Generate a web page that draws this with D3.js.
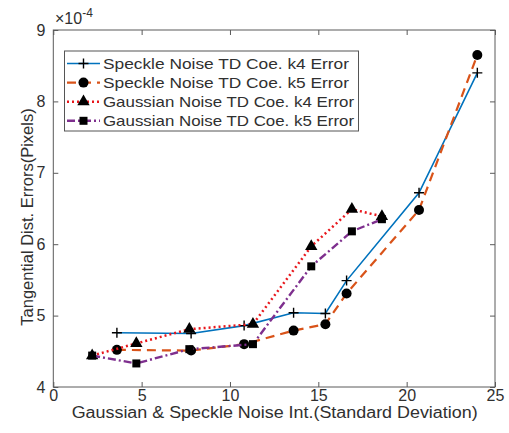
<!DOCTYPE html>
<html><head><meta charset="utf-8">
<script src="https://cdn.jsdelivr.net/npm/d3@7"></script>
<style>body{margin:0;background:#fff;} text{font-family:"Liberation Sans",Arial,sans-serif;fill:#303030;}</style>
</head><body>
<svg id="c" width="509" height="433"></svg>
<script>
// data (y in units of 1e-4)
const speckleX = [3.6, 7.8, 10.8, 13.6, 15.4, 16.6, 20.7, 24.0];
const speckleK4 = [4.76, 4.75, 4.86, 5.04, 5.03, 5.49, 6.72, 8.40];
const speckleK5 = [4.52, 4.51, 4.60, 4.79, 4.88, 5.31, 6.48, 8.65];
const gaussX = [2.2, 4.7, 7.7, 11.3, 14.6, 16.9, 18.6];
const gaussK4 = [4.44, 4.61, 4.81, 4.88, 5.97, 6.49, 6.39];
const gaussK5 = [4.44, 4.33, 4.53, 4.60, 5.69, 6.18, 6.35];
const xTicks = [0, 5, 10, 15, 20, 25];
const yTicks = [4, 5, 6, 7, 8, 9];
const seriesNames = ["Speckle Noise TD Coe. k4 Error","Speckle Noise TD Coe. k5 Error","Gaussian Noise TD Coe. k4 Error","Gaussian Noise TD Coe. k5 Error"];

const series = [
  {name: seriesNames[0], xs: speckleX, ys: speckleK4, color:"#0072BD", dash:null, width:1.6, marker:"plus"},
  {name: seriesNames[1], xs: speckleX, ys: speckleK5, color:"#D95319", dash:"9,6", width:2.2, marker:"circle"},
  {name: seriesNames[2], xs: gaussX, ys: gaussK4, color:"#E8161B", dash:"2,3", width:2.5, marker:"triangle"},
  {name: seriesNames[3], xs: gaussX, ys: gaussK5, color:"#7E2F8E", dash:"8,3,2,3", width:2.4, marker:"square"}
];

const L=53.3, R=495, T=30, B=387;
const svg = d3.select("#c");
const x = d3.scaleLinear().domain([0,25]).range([L,R]);
const y = d3.scaleLinear().domain([4,9]).range([B,T]);
const axisColor="#5a5a5a";

// axes box
svg.append("rect").attr("x",L).attr("y",T).attr("width",R-L).attr("height",B-T)
  .attr("fill","none").attr("stroke",axisColor).attr("stroke-width",1);

const gx = svg.append("g").attr("transform",`translate(0,${B})`)
  .call(d3.axisBottom(x).tickValues(xTicks).tickSize(-5).tickPadding(3).tickFormat(d3.format("d")));
const gy = svg.append("g").attr("transform",`translate(${L},0)`)
  .call(d3.axisLeft(y).tickValues(yTicks).tickSize(-5).tickPadding(8).tickFormat(d3.format("d")));
const gx2 = svg.append("g").attr("transform",`translate(0,${T})`)
  .call(d3.axisTop(x).tickValues(xTicks).tickSize(-5).tickFormat(""));
const gy2 = svg.append("g").attr("transform",`translate(${R},0)`)
  .call(d3.axisRight(y).tickValues(yTicks).tickSize(-5).tickFormat(""));
[gx,gy,gx2,gy2].forEach(g=>{
  g.select(".domain").remove();
  g.selectAll("line").attr("stroke",axisColor);
  g.selectAll("text").attr("font-size",16).style("fill","#303030");
});

// exponent
const ex = svg.append("text").attr("x",55).attr("y",24).attr("font-size",16);
ex.append("tspan").text("\u00d710");
ex.append("tspan").attr("dy",-7).attr("font-size",12).text("-4");

// axis labels
svg.append("text").attr("x",(L+R)/2+0.5).attr("y",418).attr("text-anchor","middle").attr("font-size",16)
  .attr("textLength",406).attr("lengthAdjust","spacingAndGlyphs")
  .text("Gaussian & Speckle Noise Int.(Standard Deviation)");
svg.append("text").attr("transform",`translate(33,217) rotate(-90)`).attr("text-anchor","middle").attr("font-size",16.5)
  .text("Tangential Dist. Errors(Pixels)");

function drawMarker(g, type, cx, cy){
  if(type==="plus"){
    g.append("path").attr("d",`M${cx-5},${cy}H${cx+5}M${cx},${cy-5}V${cy+5}`).attr("stroke","#000").attr("stroke-width",1.4);
  } else if(type==="circle"){
    g.append("circle").attr("cx",cx).attr("cy",cy).attr("r",5).attr("fill","#000");
  } else if(type==="triangle"){
    g.append("path").attr("d",d3.symbol(d3.symbolTriangle,66)()).attr("transform",`translate(${cx},${cy})`).attr("fill","#000");
  } else if(type==="square"){
    g.append("rect").attr("x",cx-4).attr("y",cy-4).attr("width",8).attr("height",8).attr("fill","#000");
  }
}

const line = d3.line().x(d=>x(d[0])).y(d=>y(d[1]));
series.forEach(s=>{
  const pts = s.xs.map((v,i)=>[v,s.ys[i]]);
  const g = svg.append("g");
  g.append("path").attr("d",line(pts)).attr("fill","none").attr("stroke",s.color)
    .attr("stroke-width",s.width).attr("stroke-dasharray",s.dash);
  pts.forEach(p=>drawMarker(g,s.marker,x(p[0]),y(p[1])));
});

// legend
const lg = svg.append("g");
lg.append("rect").attr("x",64.5).attr("y",51).attr("width",294).attr("height",80)
  .attr("fill","#fff").attr("stroke","#555").attr("stroke-width",1);
series.forEach((s,i)=>{
  const cy = 63.5 + i*19.1;
  lg.append("path").attr("d",`M67,${cy}H100`).attr("stroke",s.color).attr("stroke-width",s.width)
    .attr("stroke-dasharray",s.dash).attr("fill","none");
  drawMarker(lg,s.marker,83.5,cy);
  lg.append("text").attr("x",103).attr("y",cy+5).attr("font-size",14.5)
    .attr("textLength",i<2?246:251).attr("lengthAdjust","spacingAndGlyphs").text(s.name);
});
</script>
</body></html>
